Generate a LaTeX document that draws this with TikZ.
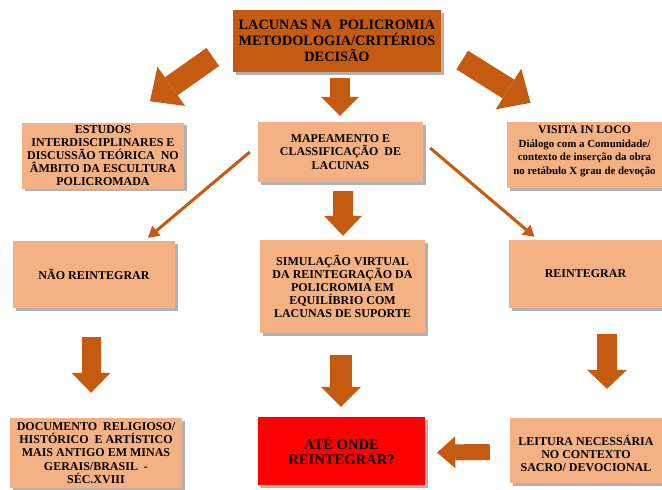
\documentclass[tikz,border=0pt]{standalone}
\usepackage{fontspec}
\setmainfont{Liberation Serif}
\usetikzlibrary{arrows.meta,shadows,calc}
\definecolor{darko}{RGB}{197,90,17}
\definecolor{lighto}{RGB}{244,177,131}
\definecolor{redbox}{RGB}{255,0,0}
\tikzset{
  box/.style={fill=lighto, align=center, inner sep=1pt,
    font=\bfseries\fontsize{12}{13.2}\selectfont,
    drop shadow={shadow xshift=2.5pt,shadow yshift=-2.5pt,opacity=.5,fill=black!60}},
  boxtext/.style={align=center, inner sep=0pt, font=\bfseries\fontsize{12}{13.2}\selectfont},
  blk/.style={draw=darko, line width=#1, line cap=butt},
  thinarr/.style={draw=darko, line width=3pt, -{Triangle[length=11pt,width=13pt,line width=0pt]}}
}
\begin{document}
\begin{tikzpicture}[x=1pt,y=-1pt]
\clip (0,0) rectangle (662,490);
\fill[white] (0,0) rectangle (662,490);
% boxes
\node[box, fill=darko, minimum width=208pt, minimum height=62pt,
  font=\bfseries\fontsize{14.3}{16.2}\selectfont] (top) at (337,41)
  {LACUNAS NA \ POLICROMIA\\METODOLOGIA/CRITÉRIOS\\DECISÃO};
\node[box, minimum width=162pt, minimum height=66pt,
  font=\bfseries\fontsize{12}{13}\selectfont] (est) at (103,155.5)
  {ESTUDOS\\INTERDISCIPLINARES E\\DISCUSSÃO TEÓRICA \ NO\\ÂMBITO DA ESCULTURA\\POLICROMADA};
\node[box, minimum width=155pt, minimum height=66pt] (vis) at (584.5,155) {};
\node[boxtext, font=\bfseries\fontsize{10.9}{13.6}\selectfont] (vist) at ($(vis)+(0,-3.5)$)
  {{\fontsize{11.7}{13.6}\selectfont VISITA IN LOCO}\\Diálogo com a Comunidade/\\contexto de inserção da obra\\no retábulo X grau de devoção};
\node[box, minimum width=165pt, minimum height=60pt,
  font=\bfseries\fontsize{11.9}{13.5}\selectfont] (map) at (340.5,152)
  {MAPEAMENTO E\\CLASSIFICAÇÃO \ DE\\LACUNAS};
\node[box, minimum width=165pt, minimum height=93pt] (sim) at (342.5,286.5)
  {SIMULAÇÃO VIRTUAL\\DA REINTEGRAÇÃO DA\\POLICROMIA EM\\EQUILÍBRIO COM\\LACUNAS DE SUPORTE};
\node[box, minimum width=162pt, minimum height=67pt] (nao) at (94,274.5) {NÃO REINTEGRAR};
\node[box, minimum width=153pt, minimum height=68pt] (rei) at (585.5,274) {REINTEGRAR};
\node[box, minimum width=172pt, minimum height=70pt] (doc) at (96,453)
  {DOCUMENTO \ RELIGIOSO/\\HISTÓRICO \ E ARTÍSTICO\\MAIS ANTIGO EM MINAS\\GERAIS/BRASIL \ -\\SÉC.XVIII};
\node[box, fill=redbox, minimum width=167pt, minimum height=68pt,
  font=\bfseries\fontsize{14.6}{15.5}\selectfont] (ate) at (341.5,451)
  {ATÉ ONDE\\REINTEGRAR?};
\node[box, minimum width=152pt, minimum height=65pt] (lei) at (586,450.5) {};
\node[boxtext] (leit) at ($(lei)+(0,3)$)
  {LEITURA NECESSÁRIA\\NO CONTEXTO\\SACRO/ DEVOCIONAL};
% block arrows
\draw[blk=22pt, -{Triangle[length=26pt,width=48pt,line width=0pt]}]
  ($(top.west)+(-20,16)$) -- ($(est.north)+(47,-21)$);
\draw[blk=22pt, -{Triangle[length=26pt,width=48pt,line width=0pt]}]
  ($(top.east)+(21,19)$) -- ($(vis.north)+(-54,-19)$);
\draw[blk=20pt, -{Triangle[length=19pt,width=38pt,line width=0pt]}]
  ($(top.south)+(3,6)$) -- ($(map.north)+(-0.5,-6)$);
\draw[blk=20pt, -{Triangle[length=20pt,width=38pt,line width=0pt]}]
  ($(map.south)+(2.5,9)$) -- ($(sim.north)+(0.5,-4)$);
\draw[blk=22pt, -{Triangle[length=20pt,width=40pt,line width=0pt]}]
  ($(sim.south)+(-1.5,22)$) -- ($(ate.north)+(-0.5,-10)$);
\draw[blk=19pt, -{Triangle[length=20pt,width=39pt,line width=0pt]}]
  ($(nao.south)+(-3,29)$) -- ($(doc.north)+(-5,-25)$);
\draw[blk=20pt, -{Triangle[length=19pt,width=40pt,line width=0pt]}]
  ($(rei.south)+(21.5,26)$) -- ($(lei.north)+(21,-29)$);
\draw[blk=16pt, -{Triangle[length=18pt,width=32pt,line width=0pt]}]
  ($(lei.west)+(-20,1.5)$) -- ($(ate.east)+(12,1.5)$);
% thin arrows
\draw[thinarr] ($(map.west)+(-8,0)$) -- ($(nao.north)+(54,-3)$);
\draw[thinarr] ($(map.east)+(7,-4)$) -- ($(rei.north)+(-51,-3)$);
\end{tikzpicture}
\end{document}
